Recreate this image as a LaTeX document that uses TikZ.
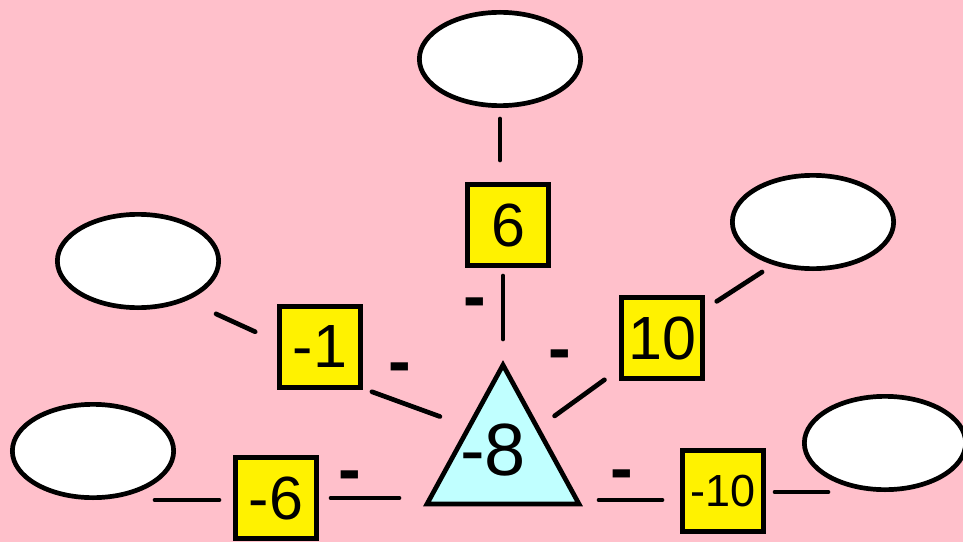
\documentclass[tikz,border=0pt]{standalone}
\usepackage{fontspec}
\setsansfont{Liberation Sans}
\usetikzlibrary{shapes,calc,positioning}
\definecolor{fondrose}{RGB}{255,192,203}
\definecolor{cyanpale}{RGB}{192,255,255}
\tikzset{
  basenode/.style = {align=center, inner sep=0pt, text centered,
    font=\sffamily},
  val_b/.style = {basenode, rectangle, draw=black, fill=yellow,
    line width=4.7pt, minimum size=81.3pt,
    font=\sffamily\fontsize{61}{61}\selectfont},% case jaune
  val_p/.style = {val_b, font=\sffamily\fontsize{45}{45}\selectfont},% case jaune, petit texte
  val_e/.style = {basenode, ellipse, draw=black, fill=white,
    line width=4.7pt, minimum width=161.3pt, minimum height=93.3pt},% bulle vide
  val_s/.style = {basenode, anchor=base,
    font=\sffamily\bfseries\fontsize{68}{68}\selectfont},% signe moins
  lien/.style = {line width=4.7pt, line cap=round}
}
\begin{document}
\begin{tikzpicture}[x=1pt,y=1pt]
        \path[use as bounding box, fill=fondrose] (0,0) rectangle (963,542);
        \draw[fill=cyanpale, line width=4.7pt] (427,38) coordinate (tl)
            -- (503,177) coordinate (tt) -- (579,38) coordinate (tr) -- cycle;
        \coordinate (sl) at ($(tt)!0.447!(tl)$);
        \coordinate (sr) at ($(tt)!0.455!(tr)$);
        \node [basenode, font=\sffamily\fontsize{74}{74}\selectfont] (t8) at (493,92) {-8};

        \node [val_e] (e1) at (500,483) {};
        \node [val_e] (e2) at (813,320) {};
        \node [val_e] (e3) at (138,281) {};
        \node [val_e] (e4) at (93,91) {};
        \node [val_e] (e5) at (885,99) {};

        \node [val_b] (b6) at (508,317) {6};
        \node [val_b] (b10) at (662,204) {10};
        \node [val_b] (bm1) at (320,195) {-1};
        \node [val_b] (bm6) at (276,44) {-6};
        \node [val_p] (bm10) at (723,51) {-10};

        \draw[lien, shorten <=11pt, shorten >=22pt] (e1.south) -- (e1.south |- b6.north);
        \draw[lien, shorten <=8pt, shorten >=26pt] (b6.south -| tt) -- (tt);
        \draw[lien, shorten <=14pt, shorten >=13pt] (b10.34) -- (e2.227);
        \draw[lien, shorten <=21pt, shorten >=18pt] (sr) -- (b10.216);
        \draw[lien, shorten <=32pt, shorten >=24pt] (e3.-39) -- (bm1.173);
        \draw[lien, shorten <=9.5pt, shorten >=31pt] (bm1.-44) -- (sl);
        \draw[lien, shorten <=62pt, shorten >=14pt] (e4.south) -- (e4.south -| bm6.west);
        \draw[lien, shorten <=12pt, shorten >=28pt] (bm6.east) -- (bm6.east -| tl);
        \draw[lien, shorten <=20pt, shorten >=18pt] ([yshift=4pt]tr) -- ([yshift=4pt]tr -| bm10.west);
        \draw[lien, shorten <=9pt, shorten >=57pt] (bm10.east |- e5.south) -- (e5.south);

        \node [val_s] (m6) at (475,222.5) {-};
        \node [val_s] (m10) at (560,170.5) {-};
        \node [val_s] (m1) at (400,157.5) {-};
        \node [val_s] (mm6) at (350,49.5) {-};
        \node [val_s] (mm10) at (622,50.5) {-};
        \end{tikzpicture}
\end{document}
